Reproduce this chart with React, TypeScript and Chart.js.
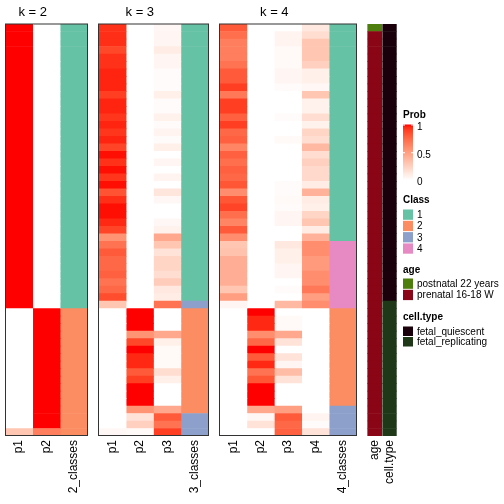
import React, { useEffect, useRef } from "react";
import { Chart, registerables } from "chart.js";

Chart.register(...registerables);

// ---------------- DATA ----------------
const sampleIds = Array.from({ length: 55 }, (_, i) => `S${i + 1}`);

const k2P1 = [1,1,1,1,1,1,1,1,1,1, 1,1,1,1,1,1,1,1,1,1, 1,1,1,1,1,1,1,1,1,1, 1,1,1,1,1,1,1,1,
  0,0,0,0,0,0,0,0,0,0,0,0,0,0,0,0, 0.3];
const k2P2 = [0,0,0,0,0,0,0,0,0,0, 0,0,0,0,0,0,0,0,0,0, 0,0,0,0,0,0,0,0,0,0, 0,0,0,0,0,0,0,0,
  1,1,1,1,1,1,1,1,1,1,1,1,1,1,1,1, 0.65];
const k2Class = [1,1,1,1,1,1,1,1,1,1, 1,1,1,1,1,1,1,1,1,1, 1,1,1,1,1,1,1,1,1,1, 1,1,1,1,1,1,1,1,
  2,2,2,2,2,2,2,2,2,2,2,2,2,2,2,2,2];

const k3P1 = [0.93,0.94,0.94,0.87,0.93,0.93,0.96,0.96,0.96,0.90, 0.96,0.96,0.92,0.96,0.92,0.96,0.88,0.99,0.93,0.99,
  0.92,0.99,0.83,0.94,0.99,0.99,0.95,0.88,0.55,0.70, 0.80,0.75,0.75,0.78,0.70,0.75,0.85,0.30,
  0,0,0,0,0,0,0,0,0,0,0,0,0,0,0,0, 0.04];
const k3P2 = [0,0,0,0,0,0,0,0,0,0, 0,0,0,0,0,0,0,0,0,0, 0,0,0,0,0,0,0,0,0,0, 0,0,0,0,0,0,0,0,
  1,1,1,0.55,0.87,1,0.95,0.95,0.8,0.9,1,1,1,0.55,0.15,0.25,0.03];
const k3P3 = [0.04,0.05,0.05,0.10,0.05,0.05,0.02,0.02,0.02,0.08, 0.02,0.02,0.07,0.02,0.06,0.02,0.08,0,0.05,0,
  0.06,0,0.13,0.04,0,0,0.04,0.07,0.45,0.3, 0.15,0.22,0.22,0.18,0.27,0.12,0.1,0.7,
  0,0,0,0.45,0.08,0.03,0.03,0.03,0.18,0.08,0,0,0,0.45,0.8,0.7,0.9];
const k3Class = [1,1,1,1,1,1,1,1,1,1, 1,1,1,1,1,1,1,1,1,1, 1,1,1,1,1,1,1,1,1,1, 1,1,1,1,1,1,1,3,
  2,2,2,2,2,2,2,2,2,2,2,2,2,2,3,3,3];

const k4P1 = [0.8,0.72,0.65,0.65,0.65,0.7,0.8,0.8,0.9,0.68, 0.9,0.9,0.78,0.9,0.75,0.78,0.62,0.78,0.72,0.78,
  0.75,0.82,0.58,0.82,0.88,0.72,0.62,0.8,0.58,0.3, 0.32,0.42,0.42,0.42,0.42,0.3,0.5,0.05,
  0,0,0,0,0,0,0,0,0,0,0,0,0,0,0,0,0];
const k4P2 = [0,0,0,0,0,0,0,0,0,0, 0,0,0,0,0,0,0,0,0,0, 0,0,0,0,0,0,0,0,0,0, 0,0,0,0,0,0,0,0,
  1,0.95,0.95,0.58,0.75,1,0.8,0.95,0.7,0.82,1,1,1,0.45,0.04,0.15,0];
const k4P3 = [0,0.06,0.06,0.03,0.03,0.03,0.05,0.05,0.02,0, 0,0,0.02,0,0,0.03,0,0,0,0,
  0,0.02,0.02,0.03,0.02,0.05,0.05,0,0,0.12, 0.08,0.08,0.05,0.05,0,0.02,0,0.37,
  0,0.03,0.03,0.45,0.15,0,0.15,0.05,0.35,0.15,0,0,0,0.5,0.8,0.75,0.78];
const k4P4 = [0.12,0.18,0.3,0.3,0.3,0.25,0.08,0.08,0.04,0.3, 0.07,0.07,0.18,0.07,0.22,0.18,0.37,0.18,0.25,0.2,
  0.2,0.1,0.4,0.1,0.08,0.22,0.3,0.1,0.4,0.58, 0.58,0.52,0.52,0.58,0.58,0.68,0.5,0.58,
  0,0,0,0,0,0,0,0,0,0,0,0,0,0,0.06,0.02,0.15];
const k4Class = [1,1,1,1,1,1,1,1,1,1, 1,1,1,1,1,1,1,1,1,1, 1,1,1,1,1,1,1,1,1,4, 4,4,4,4,4,4,4,4,
  2,2,2,2,2,2,2,2,2,2,2,2,2,3,3,3,3];

const ageLevels = ["postnatal 22 years", "prenatal 16-18 W"];
const age = [0,1,1,1,1,1,1,1,1,1, 1,1,1,1,1,1,1,1,1,1, 1,1,1,1,1,1,1,1,1,1, 1,1,1,1,1,1,1,1,
  1,1,1,1,1,1,1,1,1,1,1,1,1,1,1,1,1];
const cellLevels = ["fetal_quiescent", "fetal_replicating"];
const cellType = [0,0,0,0,0,0,0,0,0,0, 0,0,0,0,0,0,0,0,0,0, 0,0,0,0,0,0,0,0,0,0, 0,0,0,0,0,0,0,1,
  1,1,1,1,1,1,1,1,1,1,1,1,1,1,1,1,1];

const classLevels = ["1", "2", "3", "4"];
const probTicks = [0, 0.5, 1];

// ---------------- STYLE ----------------
const classColors = ["#66C2A5", "#FC8D62", "#8DA0CB", "#E78AC3"];
const ageColors = ["#4E7F0E", "#8A0515"];
const cellColors = ["#19000A", "#1F3818"];
const FONT = '"Liberation Sans", Arial, Helvetica, sans-serif';

const COL_W = 27.4;
const PANEL_GAP = 11.2;
const ANN_W = 14;
const ANN_GAP = 1;

// LAB interpolation white -> red (like circlize::colorRamp2)
function toLin(c: number) {
  c /= 255;
  return c <= 0.04045 ? c / 12.92 : Math.pow((c + 0.055) / 1.055, 2.4);
}
function fromLin(c: number) {
  const v = c <= 0.0031308 ? 12.92 * c : 1.055 * Math.pow(c, 1 / 2.4) - 0.055;
  return Math.round(Math.max(0, Math.min(1, v)) * 255);
}
const XN = 0.95047, YN = 1, ZN = 1.08883;
function rgbToLab(r: number, g: number, b: number) {
  const R = toLin(r), G = toLin(g), B = toLin(b);
  const X = (0.4124 * R + 0.3576 * G + 0.1805 * B) / XN;
  const Y = (0.2126 * R + 0.7152 * G + 0.0722 * B) / YN;
  const Z = (0.0193 * R + 0.1192 * G + 0.9505 * B) / ZN;
  const f = (t: number) => (t > 0.008856 ? Math.cbrt(t) : 7.787 * t + 16 / 116);
  const fx = f(X), fy = f(Y), fz = f(Z);
  return [116 * fy - 16, 500 * (fx - fy), 200 * (fy - fz)];
}
function labToRgb(L: number, a: number, b: number) {
  const fy = (L + 16) / 116, fx = fy + a / 500, fz = fy - b / 200;
  const inv = (t: number) => (t * t * t > 0.008856 ? t * t * t : (t - 16 / 116) / 7.787);
  const X = inv(fx) * XN, Y = inv(fy) * YN, Z = inv(fz) * ZN;
  const R = 3.2406 * X - 1.5372 * Y - 0.4986 * Z;
  const G = -0.9689 * X + 1.8758 * Y + 0.0415 * Z;
  const B = 0.0557 * X - 0.204 * Y + 1.057 * Z;
  return `rgb(${fromLin(R)},${fromLin(G)},${fromLin(B)})`;
}
const LAB_LO = rgbToLab(255, 255, 255);
const LAB_HI = rgbToLab(255, 0, 0);
function probColor(v: number) {
  const t = Math.max(0, Math.min(1, v));
  return labToRgb(
    LAB_LO[0] + (LAB_HI[0] - LAB_LO[0]) * t,
    LAB_LO[1] + (LAB_HI[1] - LAB_LO[1]) * t,
    LAB_LO[2] + (LAB_HI[2] - LAB_LO[2]) * t
  );
}

const panels = [
  { title: "k = 2", probs: [k2P1, k2P2], classes: k2Class, classLabel: "2_classes" },
  { title: "k = 3", probs: [k3P1, k3P2, k3P3], classes: k3Class, classLabel: "3_classes" },
  { title: "k = 4", probs: [k4P1, k4P2, k4P3, k4P4], classes: k4Class, classLabel: "4_classes" },
];

export default function App() {
  const ref = useRef<HTMLCanvasElement>(null);

  useEffect(() => {
    const canvas = ref.current;
    if (!canvas) return;

    type Col = { x0: number; x1: number; label: string; colors: string[] };
    const cols: Col[] = [];
    const boxes: { x0: number; x1: number; titleX: number; title: string }[] = [];
    let x = 0;
    panels.forEach((p) => {
      const start = x;
      p.probs.forEach((vals, j) => {
        cols.push({ x0: x, x1: x + COL_W, label: `p${j + 1}`, colors: vals.map(probColor) });
        x += COL_W;
      });
      const titleX = start + (p.probs.length * COL_W) / 2;
      cols.push({ x0: x, x1: x + COL_W, label: p.classLabel, colors: p.classes.map((c) => classColors[c - 1]) });
      x += COL_W;
      boxes.push({ x0: start, x1: x, titleX, title: p.title });
      x += PANEL_GAP;
    });
    cols.push({ x0: x, x1: x + ANN_W, label: "age", colors: age.map((a) => ageColors[a]) });
    x += ANN_W + ANN_GAP;
    cols.push({ x0: x, x1: x + ANN_W, label: "cell.type", colors: cellType.map((c) => cellColors[c]) });
    x += ANN_W;
    const total = x;
    const LEFT = 5.3;

    const tickValues = cols.map((c) => (c.x0 + c.x1) / 2);
    const tickLabels = cols.map((c) => c.label);

    const datasets = cols.map((c) => ({
      label: c.label,
      data: sampleIds.map(() => [c.x0, c.x1]),
      backgroundColor: c.colors,
      borderWidth: 0,
      grouped: false,
      barPercentage: 1,
      categoryPercentage: 1,
    }));

    const decor = {
      id: "decor",
      afterDatasetsDraw(chart: any) {
        const { ctx, chartArea, scales } = chart;
        const xs = scales.x;
        ctx.save();
        // panel borders
        ctx.strokeStyle = "#333333";
        ctx.lineWidth = 1;
        boxes.forEach((b) => {
          const l = Math.floor(xs.getPixelForValue(b.x0)) + 0.5;
          const r = Math.floor(xs.getPixelForValue(b.x1)) + 0.5;
          ctx.strokeRect(l, chartArea.top, r - l, chartArea.bottom - chartArea.top - 0.5);
        });
        // titles
        ctx.fillStyle = "#000";
        ctx.font = `13px ${FONT}`;
        ctx.textAlign = "center";
        ctx.textBaseline = "alphabetic";
        boxes.forEach((b) => ctx.fillText(b.title, xs.getPixelForValue(b.titleX), 16));

        // ---- legends ----
        const LX = 403;
        const TX = 417;
        ctx.textAlign = "left";
        ctx.textBaseline = "middle";
        // Prob
        ctx.font = `bold 10px ${FONT}`;
        ctx.fillText("Prob", LX, 115);
        const gTop = 124.5, gBot = 180;
        const grad = ctx.createLinearGradient(0, gBot, 0, gTop);
        for (let i = 0; i <= 20; i++) grad.addColorStop(i / 20, probColor(i / 20));
        ctx.fillStyle = grad;
        ctx.fillRect(LX, gTop, 10, gBot - gTop);
        ctx.strokeStyle = "#ffffff";
        ctx.lineWidth = 1;
        ctx.font = `10px ${FONT}`;
        probTicks.forEach((v) => {
          const y = gBot - v * (gBot - gTop);
          if (v > 0) {
            ctx.beginPath();
            ctx.moveTo(LX, y + 0.5); ctx.lineTo(LX + 2, y + 0.5);
            ctx.moveTo(LX + 8, y + 0.5); ctx.lineTo(LX + 10, y + 0.5);
            ctx.stroke();
          }
          ctx.fillStyle = "#000";
          ctx.fillText(String(v), TX, y + 2.5);
        });
        const drawGroup = (title: string, titleY: number, labels: string[], colors: string[], y0: number, step: number) => {
          ctx.font = `bold 10px ${FONT}`;
          ctx.fillStyle = "#000";
          ctx.fillText(title, LX, titleY);
          ctx.font = `10px ${FONT}`;
          labels.forEach((lab, i) => {
            const y = y0 + i * step;
            ctx.fillStyle = colors[i];
            ctx.fillRect(LX, y, 10, step - 1);
            ctx.fillStyle = "#000";
            ctx.fillText(lab, TX, y + step / 2);
          });
        };
        drawGroup("Class", 200, classLevels, classColors, 209.5, 11.3);
        drawGroup("age", 270, ageLevels, ageColors, 278.5, 11.3);
        drawGroup("cell.type", 317, cellLevels, cellColors, 326.5, 10.5);
        ctx.restore();
      },
    };

    const chart = new Chart(canvas, {
      type: "bar",
      data: { labels: sampleIds, datasets: datasets as any },
      options: {
        indexAxis: "y",
        responsive: false,
        animation: false,
        devicePixelRatio: 1,
        layout: {
          autoPadding: false,
          padding: { left: LEFT, right: 504 - LEFT - total, top: 24, bottom: 0 },
        },
        scales: {
          x: {
            type: "linear",
            min: 0,
            max: total,
            position: "bottom",
            grid: { display: false, drawTicks: false },
            border: { display: false },
            ticks: {
              autoSkip: false,
              minRotation: 90,
              maxRotation: 90,
              padding: 4,
              color: "#000",
              font: { family: FONT, size: 12 },
              callback: (_v: any, i: number) => tickLabels[i] ?? "",
            },
            afterBuildTicks: (s: any) => {
              s.ticks = tickValues.map((v) => ({ value: v }));
            },
            afterFit: (s: any) => {
              s.height = 68;
            },
          },
          y: {
            type: "category",
            display: false,
            offset: true,
            grid: { display: false },
          },
        },
        plugins: {
          legend: { display: false },
          tooltip: { enabled: false },
          title: { display: false },
        },
      } as any,
      plugins: [decor],
    });

    return () => chart.destroy();
  }, []);

  return (
    <div style={{ position: "absolute", left: 0, top: 0, width: 504, height: 504, background: "#fff" }}>
      <canvas ref={ref} width={504} height={504} style={{ width: 504, height: 504, display: "block" }} />
    </div>
  );
}
